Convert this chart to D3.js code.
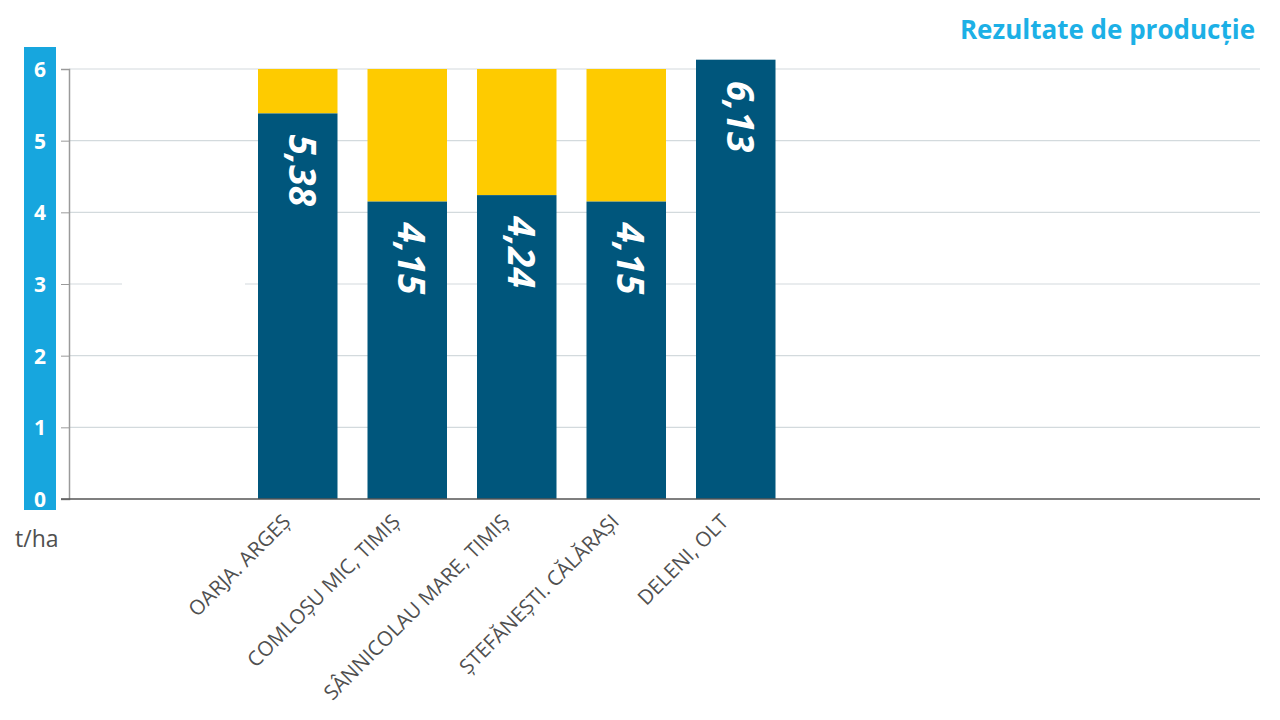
<!DOCTYPE html>
<html>
<head>
<meta charset="utf-8">
<script src="https://cdn.jsdelivr.net/npm/d3@7"></script>
<style>
  body { margin: 0; background: #fff; }
  svg { display: block; font-family: "Open Sans", "Noto Sans", sans-serif; }
</style>
</head>
<body>
<div class="wrapper"></div>
<script>
// data
var places = ["OARJA. ARGEȘ", "COMLOȘU MIC, TIMIȘ", "SÂNNICOLAU MARE, TIMIȘ", "ȘTEFĂNEȘTI. CĂLĂRAȘI", "DELENI, OLT"];
var yields = [5.38, 4.15, 4.24, 4.15, 6.13];
var labels = ["5,38", "4,15", "4,24", "4,15", "6,13"];
var target = 6;
var yTicks = [0, 1, 2, 3, 4, 5, 6];

var w = 1280,
    h = 720;

var svg = d3.select(".wrapper").append("svg")
    .attr("width", w)
    .attr("height", h);

var x = d3.scaleBand()
    .domain(places)
    .range([243, 790.5])
    .paddingInner(0.274)
    .paddingOuter(0.137);

var y = d3.scaleLinear()
    .domain([0, 6])
    .range([499, 69]);

// blue strip behind the y labels
svg.append("rect")
    .attr("x", 24).attr("y", 47)
    .attr("width", 32).attr("height", 463)
    .attr("fill", "#17a6de");

// grid
svg.append("g")
    .selectAll("line")
    .data(yTicks.slice(1))
  .enter().append("line")
    .attr("x1", 69).attr("x2", 1260)
    .attr("y1", function(d) { return y(d); })
    .attr("y2", function(d) { return y(d); })
    .attr("stroke", "#d3dadd")
    .attr("stroke-width", 1.2);

// the gap in the "3" line
svg.append("rect")
    .attr("x", 122).attr("y", y(3) - 3)
    .attr("width", 123).attr("height", 6)
    .attr("fill", "#fff");

// y axis
var yAxis = d3.axisLeft(y).tickValues(yTicks).tickSize(8).tickPadding(13).tickFormat(d3.format("d"));
var ga = svg.append("g")
    .attr("transform", "translate(69,0)")
    .call(yAxis)
    .attr("font-family", null);
ga.select(".domain").attr("stroke", "#9a9a9a").attr("stroke-width", 1.5);
ga.selectAll(".tick line").attr("stroke", "#9a9a9a");
ga.selectAll(".tick text")
    .attr("fill", "#fff")
    .attr("font-size", 21)
    .attr("font-weight", 700)
    .attr("text-anchor", "middle")
    .attr("x", -29)
    .attr("dy", "0.36em");

// yellow remainder up to target
svg.append("g")
    .selectAll("rect")
    .data(places)
  .enter().append("rect")
    .attr("x", function(d) { return x(d); })
    .attr("width", x.bandwidth())
    .attr("y", y(target))
    .attr("height", function(d, i) { return Math.max(0, y(yields[i]) - y(target)); })
    .attr("fill", "#fecb00");

// blue bars
svg.append("g")
    .selectAll("rect")
    .data(places)
  .enter().append("rect")
    .attr("x", function(d) { return x(d); })
    .attr("width", x.bandwidth())
    .attr("y", function(d, i) { return y(yields[i]); })
    .attr("height", function(d, i) { return y(0) - y(yields[i]); })
    .attr("fill", "#00567c");

// values inside bars, rotated
svg.append("g")
    .selectAll("text")
    .data(places)
  .enter().append("text")
    .attr("transform", function(d, i) {
      return "translate(" + (x(d) + x.bandwidth() / 2 - 9) + "," + (y(yields[i]) + 21) + ") rotate(90)";
    })
    .attr("text-anchor", "start")
    .attr("fill", "#fff")
    .attr("font-size", 37)
    .attr("font-weight", 700)
    .attr("font-style", "italic")
    .text(function(d, i) { return labels[i]; });

// baseline
svg.append("line")
    .attr("x1", 61).attr("x2", 1260)
    .attr("y1", y(0)).attr("y2", y(0))
    .attr("stroke", "#555")
    .attr("stroke-width", 1.5);

// category labels
svg.append("g")
    .selectAll("text")
    .data(places)
  .enter().append("text")
    .attr("transform", function(d) {
      return "translate(" + (x(d) + x.bandwidth() / 2 - 6) + ",523) rotate(-45)";
    })
    .attr("text-anchor", "end")
    .attr("fill", "#505050")
    .attr("font-size", 20.5)
    .text(function(d) { return d; });

// unit
svg.append("text")
    .attr("x", 15).attr("y", 547)
    .attr("fill", "#505050")
    .attr("font-size", 23)
    .text("t/ha");

// title
svg.append("text")
    .attr("x", 1255).attr("y", 39)
    .attr("text-anchor", "end")
    .attr("fill", "#1cb0e6")
    .attr("font-size", 26)
    .attr("font-weight", 700)
    .text("Rezultate de producție");
</script>
</body>
</html>
